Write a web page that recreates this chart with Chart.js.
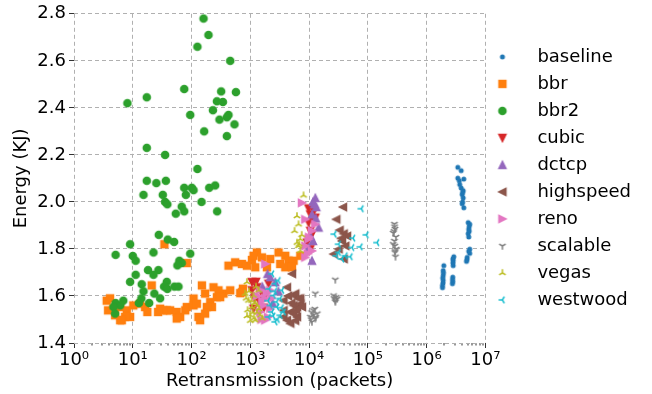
<!DOCTYPE html>
<html>
<head>
<meta charset="utf-8">
<script src="https://cdn.jsdelivr.net/npm/chart.js@4"></script>
<style>
html,body{margin:0;padding:0;background:#fff;}
#wrap{width:652px;height:394px;}
</style>
</head>
<body>
<div id="wrap"><canvas id="c" width="652" height="394"></canvas></div>
<script>
// ---- data (Retransmission packets, Energy KJ) ----
const seriesNames = ['baseline','bbr','bbr2','cubic','dctcp','highspeed','reno','scalable','vegas','westwood'];
const seriesColors = ['#1f77b4','#ff7f0e','#2ca02c','#d62728','#9467bd','#8c564b','#e377c2','#7f7f7f','#bcbd22','#17becf'];
const xTickLabels = ['10⁰','10¹','10²','10³','10⁴','10⁵','10⁶','10⁷'];
const yTicks = [1.4,1.6,1.8,2.0,2.2,2.4,2.6,2.8];

const baseline = [[3.39e6,2.147],[3.87e6,2.133],[3.39e6,2.101],[4.29e6,2.097],[3.66e6,2.074],[3.87e6,2.059],[4.19e6,2.048],[4.03e6,2.031],[4.19e6,2.017],[4.03e6,1.992],[4.29e6,1.975],[5.09e6,1.912],[5.42e6,1.905],[5.21e6,1.884],[5.09e6,1.865],[5.21e6,1.851],[5.42e6,1.799],[5.42e6,1.781],[4.90e6,1.764],[4.77e6,1.747],[2.90e6,1.767],[2.83e6,1.750],[2.83e6,1.729],[2.78e6,1.680],[2.78e6,1.661],[2.75e6,1.652],[1.96e6,1.729],[1.91e6,1.708],[1.91e6,1.687],[1.91e6,1.666],[1.86e6,1.645],[1.86e6,1.635],[1.93e6,1.698],[1.88e6,1.676],[1.90e6,1.655],[2.80e6,1.758],[2.80e6,1.740],[4.10e6,2.040],[3.60e6,2.090],[5.30e6,1.895],[5.30e6,1.875],[5.20e6,1.790],[4.85e6,1.755],[4.10e6,2.000],[2.76e6,1.670]];

const bbr = [[34.5,1.82],[83,1.74],[21,1.645],[3.6,1.58],[4.1,1.59],[4.7,1.546],[6.1,1.553],[5.0,1.518],[7.9,1.539],[9.0,1.511],[7.4,1.511],[10.2,1.56],[16.2,1.553],[17.7,1.532],[29.2,1.546],[37.9,1.539],[43.2,1.539],[56,1.532],[64,1.511],[78,1.539],[56,1.504],[83,1.553],[131,1.511],[140,1.497],[108,1.589],[150,1.645],[170,1.61],[208,1.574],[222,1.553],[236,1.637],[270,1.595],[349,1.61],[455,1.624],[108,1.56],[425,1.729],[553,1.743],[719,1.736],[875,1.729],[1065,1.753],[1295,1.785],[673,1.612],[748,1.631],[1135,1.771],[1577,1.764],[1212,1.722],[1918,1.722],[2183,1.757],[3022,1.785],[3231,1.736],[3935,1.771],[4477,1.75],[3935,1.722],[287,1.624],[307,1.595],[719,1.616],[123,1.567],[182,1.553],[170,1.525],[7081,1.771],[5448,1.75],[5115,1.722],[3.8,1.539],[6.5,1.497],[13.3,1.567],[6.1,1.497],[33,1.539],[27,1.532]];

const bbr2 = [[160,2.78],[194,2.71],[126,2.66],[455,2.60],[75,2.48],[17.3,2.445],[8.1,2.42],[319,2.47],[569,2.467],[270,2.428],[341,2.425],[231,2.39],[95,2.37],[425,2.37],[399,2.36],[299,2.35],[538,2.33],[164,2.30],[399,2.28],[17.3,2.23],[35.5,2.20],[126,2.14],[17.3,2.09],[25.2,2.08],[36.5,2.09],[15.2,2.03],[32.4,2.03],[35.5,2.00],[38.8,1.99],[75,2.06],[101,2.06],[108,2.05],[80,2.03],[200,2.06],[252,2.07],[148,2.00],[273,1.96],[68,1.98],[75,1.96],[54,1.95],[27.7,1.86],[39.4,1.84],[50.5,1.83],[9.0,1.82],[5.1,1.775],[10,1.77],[11.2,1.75],[22.5,1.785],[95,1.78],[62,1.75],[68,1.74],[57.5,1.73],[18.2,1.71],[27.3,1.71],[11.2,1.69],[22.5,1.69],[9.0,1.66],[14.2,1.65],[37.9,1.66],[34.1,1.64],[38.8,1.63],[51,1.64],[60,1.64],[15.2,1.62],[23.3,1.61],[29.2,1.59],[14.0,1.59],[12.7,1.57],[19,1.57],[5.1,1.57],[6.9,1.58],[6.1,1.56],[5.0,1.525],[4.7,1.553]];

const cubic = [[9800,1.972],[10480,1.947],[12760,1.933],[9800,1.912],[10480,1.877],[11200,1.863],[9209,1.827],[10480,1.799],[12000,1.96],[11500,1.92],[1065,1.659],[1295,1.637],[1065,1.624],[2042,1.652],[1795,1.602],[1135,1.546],[1400,1.58],[1700,1.55],[1250,1.66],[1500,1.62],[1180,1.59]];

const dctcp = [[12760,2.017],[11640,2.0],[13270,1.978],[11200,1.947],[14520,1.891],[10480,1.855],[11640,1.834],[9800,1.806],[11200,1.75],[12300,1.99],[13000,1.93],[1964,1.694],[2655,1.659],[2184,1.68],[3000,1.62],[1600,1.64],[2400,1.57]];

const highspeed = [[37760,1.978],[29040,1.926],[33090,1.88],[38720,1.865],[44260,1.855],[36310,1.834],[41390,1.813],[31830,1.799],[26140,1.778],[38720,1.757],[35000,1.845],[5115,1.694],[4204,1.637],[5448,1.602],[6622,1.589],[6218,1.553],[4784,1.532],[4204,1.497],[6218,1.511],[3680,1.511],[7081,1.567],[5819,1.61],[7081,1.589],[3680,1.581],[5448,1.56],[5448,1.525],[7570,1.553],[4784,1.483],[3680,1.539],[5000,1.57],[6000,1.54],[4400,1.60],[5800,1.495]];

const reno = [[7570,1.996],[8616,1.926],[12760,1.905],[11200,1.877],[9800,1.842],[8616,1.813],[11200,1.792],[8616,1.764],[10000,1.85],[9500,1.78],[1795,1.736],[1475,1.624],[1795,1.589],[2183,1.624],[1475,1.532],[1795,1.497],[2183,1.546],[1679,1.56],[1900,1.61],[1300,1.60],[2000,1.51],[1600,1.58],[2300,1.59],[1550,1.50]];

const scalable = [[283000,1.906],[290000,1.885],[270000,1.868],[300000,1.851],[283000,1.834],[288000,1.813],[305000,1.80],[288000,1.785],[295000,1.767],[270000,1.82],[278000,1.875],[292000,1.79],[285000,1.895],[27900,1.669],[12800,1.61],[26140,1.602],[27900,1.581],[29040,1.595],[30000,1.588],[28000,1.575],[26500,1.59],[11800,1.539],[10500,1.511],[13800,1.525],[11200,1.49],[12800,1.504],[12000,1.52],[11000,1.53],[13000,1.51],[10800,1.50],[12500,1.545]];

const vegas = [[8054,2.028],[6218,1.94],[6622,1.905],[5662,1.877],[7081,1.842],[6622,1.813],[7081,1.792],[6218,1.827],[7500,1.86],[6800,1.82],[875,1.659],[819,1.61],[931,1.581],[1065,1.553],[996,1.518],[1212,1.497],[1475,1.518],[1295,1.56],[1135,1.602],[1379,1.624],[900,1.54],[1050,1.58],[1150,1.505],[1300,1.53],[850,1.59],[1000,1.495],[1250,1.64],[1600,1.505],[950,1.62],[1100,1.53],[880,1.515],[1400,1.545],[1200,1.57]];

const westwood = [[77480,1.971],[26850,1.863],[55980,1.846],[94250,1.86],[143500,1.827],[31830,1.82],[53830,1.806],[74520,1.809],[31830,1.785],[41390,1.771],[50350,1.767],[36310,1.757],[29040,1.771],[2333,1.694],[2655,1.652],[2484,1.602],[3231,1.589],[2838,1.553],[2333,1.532],[3231,1.518],[2042,1.511],[2655,1.49],[3453,1.624],[3680,1.532],[3000,1.666],[2200,1.56],[2000,1.58],[2900,1.50],[3400,1.55],[2600,1.62],[2100,1.63],[2800,1.575],[2450,1.515]];

const seriesData = [baseline,bbr,bbr2,cubic,dctcp,highspeed,reno,scalable,vegas,westwood];
const markerKinds = ['point','square','circle','triDown','triUp','triLeft','triRight','yDown','yUp','yLeft'];

// ---- marker drawing (style only) ----
function markerCanvas(kind, color, w, h, cx, cy) {
  const c = document.createElement('canvas');
  c.width = w; c.height = h;
  const g = c.getContext('2d');
  g.fillStyle = color; g.strokeStyle = color;
  g.lineWidth = 1.5; g.lineJoin = 'miter'; g.lineCap = 'butt';
  const s = 3.5;
  const poly = (pts) => {
    g.beginPath();
    pts.forEach((p, i) => i ? g.lineTo(cx + p[0], cy + p[1]) : g.moveTo(cx + p[0], cy + p[1]));
    g.closePath(); g.fill(); g.stroke();
  };
  const arms = (pts) => {
    g.beginPath();
    pts.forEach(p => { g.moveTo(cx, cy); g.lineTo(cx + p[0], cy + p[1]); });
    g.stroke();
  };
  const a = 3.8;
  switch (kind) {
    case 'point': g.beginPath(); g.arc(cx, cy, 2.5, 0, 2 * Math.PI); g.fill(); break;
    case 'circle': g.beginPath(); g.arc(cx, cy, 4.3, 0, 2 * Math.PI); g.fill(); break;
    case 'square': g.fillRect(cx - 4.2, cy - 4.2, 8.4, 8.4); break;
    case 'triDown': poly([[0, s], [-s, -s], [s, -s]]); break;
    case 'triUp': poly([[0, -s], [-s, s], [s, s]]); break;
    case 'triLeft': poly([[-s, 0], [s, -s], [s, s]]); break;
    case 'triRight': poly([[s, 0], [-s, -s], [-s, s]]); break;
    case 'yDown': arms([[0, a], [-0.866 * a, -0.5 * a], [0.866 * a, -0.5 * a]]); break;
    case 'yUp': arms([[0, -a], [-0.866 * a, 0.5 * a], [0.866 * a, 0.5 * a]]); break;
    case 'yLeft': arms([[-a, 0], [0.5 * a, -0.866 * a], [0.5 * a, 0.866 * a]]); break;
  }
  return c;
}
const plotMarkers = markerKinds.map((k, i) => markerCanvas(k, seriesColors[i], 16, 16, 8, 8));
const legendMarkers = markerKinds.map((k, i) => markerCanvas(k, seriesColors[i], 30, 16, 6, 8));

Chart.defaults.font.family = 'DejaVu Sans';
Chart.defaults.font.size = 18;
Chart.defaults.color = '#000';

const isPow10 = (v) => { const e = Math.log10(v); return Math.abs(e - Math.round(e)) < 1e-9; };

new Chart(document.getElementById('c'), {
  type: 'scatter',
  data: {
    datasets: seriesNames.map((name, i) => ({
      label: name,
      data: seriesData[i].map(p => ({x: p[0], y: p[1]})),
      pointStyle: plotMarkers[i],
      pointRadius: 4,
      backgroundColor: seriesColors[i],
      borderColor: seriesColors[i],
      order: seriesNames.length - i
    }))
  },
  options: {
    responsive: false,
    animation: false,
    devicePixelRatio: 1,
    events: [],
    layout: {padding: {left: 7, top: 11, right: 11, bottom: 0}},
    plugins: {
      tooltip: {enabled: false},
      legend: {
        position: 'right',
        align: 'center',
        fullSize: false,
        labels: {
          usePointStyle: true,
          pointStyleWidth: 34,
          padding: 9,
          font: {size: 18, family: 'DejaVu Sans'},
          color: '#000',
          generateLabels: (chart) => {
            const items = Chart.defaults.plugins.legend.labels.generateLabels(chart);
            items.sort((a, b) => a.datasetIndex - b.datasetIndex);
            items.forEach(it => { it.pointStyle = legendMarkers[it.datasetIndex]; });
            return items;
          }
        }
      }
    },
    scales: {
      x: {
        type: 'logarithmic',
        min: 1, max: 1e7,
        afterBuildTicks: (scale) => {
          const t = [];
          for (let e = 0; e < xTickLabels.length - 1; e++)
            for (let m = 1; m < 10; m++) t.push({value: m * Math.pow(10, e), major: m === 1});
          t.push({value: Math.pow(10, xTickLabels.length - 1), major: true});
          scale.ticks = t;
        },
        afterFit: (scale) => { scale.height = 51; },
        ticks: {
          autoSkip: false, maxRotation: 0, padding: 2,
          font: {size: 18},
          callback: (v) => isPow10(v) ? xTickLabels[Math.round(Math.log10(v))] : ''
        },
        grid: {
          color: '#b0b0b0',
          lineWidth: (ctx) => (ctx.tick && isPow10(ctx.tick.value)) ? 1 : 0,
          tickLength: 5,
          tickColor: '#333',
          tickWidth: 1,
          tickBorderDash: (ctx) => (ctx.tick && isPow10(ctx.tick.value)) ? [] : [2.5, 20]
        },
        border: {display: false, dash: [4, 3]},
        title: {display: true, text: 'Retransmission (packets)', font: {size: 18}, padding: {top: 2, bottom: 2}}
      },
      y: {
        type: 'linear',
        min: yTicks[0], max: yTicks[yTicks.length - 1],
        afterBuildTicks: (scale) => { scale.ticks = yTicks.map(v => ({value: v})); },
        afterFit: (scale) => { scale.width = 67; },
        ticks: {padding: 3, font: {size: 18}, callback: (v) => Number(v).toFixed(1)},
        grid: {color: '#b0b0b0', lineWidth: 1, tickLength: 5, tickColor: '#333', tickWidth: 1, tickBorderDash: []},
        border: {display: false, dash: [4, 3]},
        title: {display: true, text: 'Energy (KJ)', font: {size: 18}, padding: {top: 4, bottom: 4}}
      }
    }
  }
});
</script>
</body>
</html>
